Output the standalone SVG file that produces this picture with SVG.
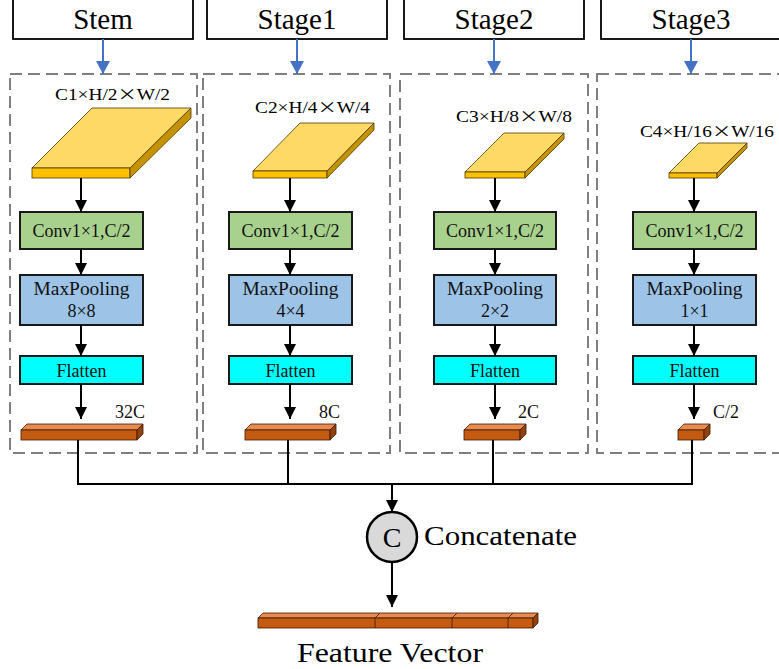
<svg xmlns="http://www.w3.org/2000/svg" width="779" height="669" viewBox="0 0 779 669" font-family="'Liberation Serif', 'Times New Roman', serif">
<defs>
<style>
text{font-family:'Liberation Serif','Times New Roman',serif}
.hdr{fill:#fff;stroke:#000;stroke-width:1.8}
.ht{font-size:29px;fill:#000;text-anchor:middle}
.dash{fill:none;stroke:#7f7f7f;stroke-width:2;stroke-dasharray:12 6}
.lbl{font-size:16px;fill:#000}
.bt{font-size:18px;fill:#111;text-anchor:middle}
.conv{fill:#a9d18e;stroke:#1a1a1a;stroke-width:2}
.pool{fill:#9dc3e6;stroke:#1a1a1a;stroke-width:2}
.flat{fill:#00ffff;stroke:#1a1a1a;stroke-width:2}
.fmT{fill:#ffd966;stroke:#4d3b00;stroke-width:0.8}
.fmF{fill:#ffc000;stroke:#4d3b00;stroke-width:0.8}
.fmS{fill:#c59200;stroke:#4d3b00;stroke-width:0.8}
.barT{fill:#e98a4f;stroke:#3d1a05;stroke-width:0.8}
.barF{fill:#c55a11;stroke:#3d1a05;stroke-width:0.8}
.barS{fill:#94420b;stroke:#3d1a05;stroke-width:0.8}
.ln{fill:none;stroke:#000;stroke-width:2}
.arr{fill:none;stroke:#000;stroke-width:2;marker-end:url(#ah)}
.barr{fill:none;stroke:#4472c4;stroke-width:2;marker-end:url(#bh)}
</style>
<marker id="ah" markerUnits="userSpaceOnUse" markerWidth="12" markerHeight="12" viewBox="0 0 12 12" refX="12" refY="6" orient="auto"><path d="M0,0 L12,6 L0,12 z" fill="#000"/></marker>
<marker id="bh" markerUnits="userSpaceOnUse" markerWidth="13" markerHeight="14" viewBox="0 0 13 14" refX="13" refY="7" orient="auto"><path d="M0,0 L13,7 L0,14 z" fill="#4472c4"/></marker>
</defs>

<!-- headers -->
<g id="hdr-stem"><rect class="hdr" x="13" y="-1" width="180" height="40"/><text class="ht" x="103" y="29">Stem</text></g>
<g id="hdr-stage1"><rect class="hdr" x="207" y="-1" width="180" height="40"/><text class="ht" x="297" y="29">Stage1</text></g>
<g id="hdr-stage2"><rect class="hdr" x="404" y="-1" width="180" height="40"/><text class="ht" x="494" y="29">Stage2</text></g>
<g id="hdr-stage3"><rect class="hdr" x="601" y="-1" width="185" height="40"/><text class="ht" x="691" y="29">Stage3</text></g>

<!-- dashed containers -->
<g id="box-stem"><rect class="dash" x="10" y="74" width="187" height="379"/></g>
<g id="box-stage1"><rect class="dash" x="203" y="74" width="187" height="379"/></g>
<g id="box-stage2"><rect class="dash" x="400" y="74" width="188" height="379"/></g>
<g id="box-stage3"><rect class="dash" x="597" y="74" width="192" height="379"/></g>

<!-- feature maps -->
<g id="fm-stem">
<text class="lbl" x="55" y="100" textLength="115" lengthAdjust="spacingAndGlyphs">C1×H/2<tspan font-family="'Noto Sans CJK SC', sans-serif">×</tspan>W/2</text>
<polygon class="fmT" points="32,168 92,108 191,108 130,168"/>
<rect class="fmF" x="32" y="168" width="98" height="10"/>
<polygon class="fmS" points="130,168 191,108 191,118 130,178"/>
</g>
<g id="fm-stage1">
<text class="lbl" x="255" y="113" textLength="115" lengthAdjust="spacingAndGlyphs">C2×H/4<tspan font-family="'Noto Sans CJK SC', sans-serif">×</tspan>W/4</text>
<polygon class="fmT" points="253,171 300,123 374,123 327,171"/>
<rect class="fmF" x="253" y="171" width="74" height="7"/>
<polygon class="fmS" points="327,171 374,123 374,130 327,178"/>
</g>
<g id="fm-stage2">
<text class="lbl" x="456" y="122" textLength="116" lengthAdjust="spacingAndGlyphs">C3×H/8<tspan font-family="'Noto Sans CJK SC', sans-serif">×</tspan>W/8</text>
<polygon class="fmT" points="465,172 504,133 564,133 525,172"/>
<rect class="fmF" x="465" y="172" width="60" height="6"/>
<polygon class="fmS" points="525,172 564,133 564,139 525,178"/>
</g>
<g id="fm-stage3">
<text class="lbl" x="640" y="137" textLength="134" lengthAdjust="spacingAndGlyphs">C4×H/16<tspan font-family="'Noto Sans CJK SC', sans-serif">×</tspan>W/16</text>
<polygon class="fmT" points="669,173 699,143 747,143 717,173"/>
<rect class="fmF" x="669" y="173" width="48" height="5"/>
<polygon class="fmS" points="717,173 747,143 747,148 717,178"/>
</g>

<!-- conv boxes -->
<g id="conv-stem"><rect class="conv" x="20" y="212" width="123" height="37"/><text class="bt" x="81.5" y="237" textLength="98" lengthAdjust="spacingAndGlyphs">Conv1×1,C/2</text></g>
<g id="conv-stage1"><rect class="conv" x="229" y="212" width="123" height="37"/><text class="bt" x="290.5" y="237" textLength="98" lengthAdjust="spacingAndGlyphs">Conv1×1,C/2</text></g>
<g id="conv-stage2"><rect class="conv" x="434" y="212" width="122" height="37"/><text class="bt" x="495" y="237" textLength="98" lengthAdjust="spacingAndGlyphs">Conv1×1,C/2</text></g>
<g id="conv-stage3"><rect class="conv" x="633" y="212" width="123" height="37"/><text class="bt" x="694.5" y="237" textLength="98" lengthAdjust="spacingAndGlyphs">Conv1×1,C/2</text></g>

<!-- maxpool boxes -->
<g id="pool-stem"><rect class="pool" x="20" y="275" width="123" height="50"/><text class="bt" x="81.5" y="295" textLength="96" lengthAdjust="spacingAndGlyphs">MaxPooling</text><text class="bt" x="81.5" y="317">8×8</text></g>
<g id="pool-stage1"><rect class="pool" x="229" y="275" width="123" height="50"/><text class="bt" x="290.5" y="295" textLength="96" lengthAdjust="spacingAndGlyphs">MaxPooling</text><text class="bt" x="290.5" y="317">4×4</text></g>
<g id="pool-stage2"><rect class="pool" x="434" y="275" width="122" height="50"/><text class="bt" x="495" y="295" textLength="96" lengthAdjust="spacingAndGlyphs">MaxPooling</text><text class="bt" x="495" y="317">2×2</text></g>
<g id="pool-stage3"><rect class="pool" x="633" y="275" width="123" height="50"/><text class="bt" x="694.5" y="295" textLength="96" lengthAdjust="spacingAndGlyphs">MaxPooling</text><text class="bt" x="694.5" y="317">1×1</text></g>

<!-- flatten boxes -->
<g id="flat-stem"><rect class="flat" x="20" y="356" width="123" height="28"/><text class="bt" x="81.5" y="377">Flatten</text></g>
<g id="flat-stage1"><rect class="flat" x="229" y="356" width="123" height="28"/><text class="bt" x="290.5" y="377">Flatten</text></g>
<g id="flat-stage2"><rect class="flat" x="434" y="356" width="122" height="28"/><text class="bt" x="495" y="377">Flatten</text></g>
<g id="flat-stage3"><rect class="flat" x="633" y="356" width="123" height="28"/><text class="bt" x="694.5" y="377">Flatten</text></g>

<!-- vectors -->
<g id="vec-stem">
<polygon class="barT" points="21,430 27,424 143,424 137,430"/>
<rect class="barF" x="21" y="430" width="116" height="10"/>
<polygon class="barS" points="137,430 143,424 143,434 137,440"/>
<text class="bt" x="115" y="418" style="text-anchor:start">32C</text>
</g>
<g id="vec-stage1">
<polygon class="barT" points="245,430 251,424 336,424 330,430"/>
<rect class="barF" x="245" y="430" width="85" height="10"/>
<polygon class="barS" points="330,430 336,424 336,434 330,440"/>
<text class="bt" x="319" y="418" style="text-anchor:start">8C</text>
</g>
<g id="vec-stage2">
<polygon class="barT" points="464,430 470,424 526,424 520,430"/>
<rect class="barF" x="464" y="430" width="56" height="10"/>
<polygon class="barS" points="520,430 526,424 526,434 520,440"/>
<text class="bt" x="518" y="418" style="text-anchor:start">2C</text>
</g>
<g id="vec-stage3">
<polygon class="barT" points="678,430 684,424 710,424 704,430"/>
<rect class="barF" x="678" y="430" width="26" height="10"/>
<polygon class="barS" points="704,430 710,424 710,434 704,440"/>
<text class="bt" x="713" y="418" style="text-anchor:start">C/2</text>
</g>

<!-- concatenate -->
<g id="concat">
<circle cx="392" cy="537" r="25" fill="#d9d9d9" stroke="#000" stroke-width="2.5"/>
<text class="ht" x="392" y="547" style="font-size:28px">C</text>
<text class="ht" x="424" y="545" style="text-anchor:start;font-size:27px" textLength="153" lengthAdjust="spacingAndGlyphs">Concatenate</text>
</g>

<!-- feature vector -->
<g id="feature-vector">
<polygon class="barT" points="258,618 263,613 538,613 533,618"/>
<rect class="barF" x="258" y="618" width="275" height="10"/>
<polygon class="barS" points="533,618 538,613 538,623 533,628"/>
<path d="M375,618 V628 M375,618 L380,613 M452,618 V628 M452,618 L457,613 M508,618 V628 M508,618 L513,613" stroke="#3d1a05" stroke-width="0.8" fill="none"/>
<text class="ht" x="297" y="662" style="text-anchor:start;font-size:27px" textLength="186" lengthAdjust="spacingAndGlyphs">Feature Vector</text>
</g>

<!-- connectors -->
<g id="connectors">
<path class="barr" d="M103,39 V74"/>
<path class="barr" d="M297,39 V74"/>
<path class="barr" d="M494,39 V74"/>
<path class="barr" d="M691,39 V74"/>

<path class="arr" d="M81,178 V212"/>
<path class="arr" d="M81,249 V275"/>
<path class="arr" d="M81,325 V356"/>
<path class="arr" d="M81,384 V419"/>

<path class="arr" d="M290,178 V212"/>
<path class="arr" d="M290,249 V275"/>
<path class="arr" d="M290,325 V356"/>
<path class="arr" d="M290,384 V419"/>

<path class="arr" d="M495,178 V212"/>
<path class="arr" d="M495,249 V275"/>
<path class="arr" d="M495,325 V356"/>
<path class="arr" d="M495,384 V419"/>

<path class="arr" d="M694,178 V212"/>
<path class="arr" d="M694,249 V275"/>
<path class="arr" d="M694,325 V356"/>
<path class="arr" d="M694,384 V419"/>

<path class="ln" d="M78,440 V484 H692 V440 M288,440 V484 M493,440 V484"/>
<path class="arr" d="M392,484 V512"/>
<path class="arr" d="M392,562 V607"/>
</g>
</svg>
